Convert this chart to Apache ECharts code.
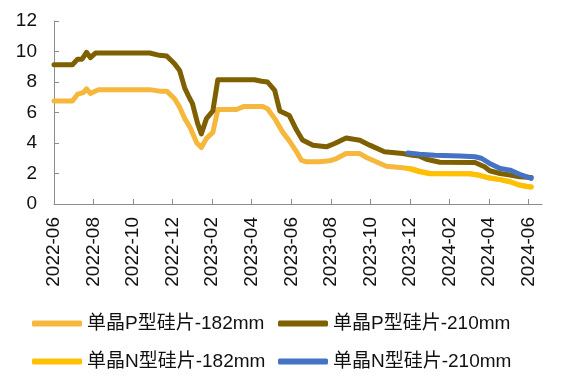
<!DOCTYPE html>
<html>
<head>
<meta charset="utf-8">
<script src="https://cdn.jsdelivr.net/npm/echarts@6/dist/echarts.min.js"></script>
<style>
  html, body { margin: 0; padding: 0; background: #fff; }
  #chart { width: 576px; height: 376px; }
</style>
</head>
<body>
<div id="chart"></div>
<script>
// Monocrystalline wafer prices (yuan/piece), weekly quotes
const seriesNames = ['单晶P型硅片-182mm', '单晶P型硅片-210mm', '单晶N型硅片-182mm', '单晶N型硅片-210mm'];

const p182Dates = ['2022-06-01','2022-06-29','2022-07-07','2022-07-16','2022-07-21','2022-07-27','2022-08-06','2022-08-10','2022-10-27','2022-11-11','2022-11-22','2022-12-04','2022-12-12','2022-12-20','2022-12-28','2023-01-08','2023-01-15','2023-01-23','2023-02-02','2023-02-09','2023-03-08','2023-03-20','2023-04-17','2023-04-25','2023-05-06','2023-05-19','2023-05-29','2023-06-09','2023-06-16','2023-06-24','2023-07-14','2023-07-30','2023-08-10','2023-08-25','2023-09-15','2023-09-25','2023-10-10','2023-10-26','2023-11-20','2023-12-05','2023-12-16','2024-01-02','2024-03-02','2024-03-17','2024-04-02','2024-04-18','2024-05-03','2024-05-18','2024-06-05'];
const p182Values = [6.75,6.75,7.2,7.3,7.55,7.25,7.45,7.5,7.5,7.4,7.4,6.9,6.35,5.6,5.05,4.0,3.7,4.3,4.7,6.2,6.2,6.4,6.4,6.25,5.6,4.68,4.14,3.42,2.88,2.77,2.77,2.83,2.98,3.31,3.31,3.05,2.77,2.48,2.37,2.3,2.15,2.0,1.98,1.88,1.7,1.6,1.46,1.24,1.12];

const p210Dates = ['2022-06-01','2022-06-29','2022-07-07','2022-07-14','2022-07-21','2022-07-27','2022-08-04','2022-10-27','2022-11-11','2022-11-22','2022-12-04','2022-12-12','2022-12-20','2022-12-28','2023-01-01','2023-01-09','2023-01-15','2023-01-23','2023-02-02','2023-02-09','2023-04-05','2023-04-16','2023-04-25','2023-05-06','2023-05-14','2023-05-29','2023-06-09','2023-06-18','2023-07-04','2023-07-25','2023-08-07','2023-08-25','2023-09-15','2023-09-30','2023-10-23','2023-11-20','2023-12-05','2023-12-16','2023-12-27','2024-01-17','2024-03-10','2024-03-25','2024-04-02','2024-04-18','2024-05-03','2024-05-18','2024-06-05'];
const p210Values = [9.13,9.13,9.5,9.5,9.95,9.6,9.9,9.9,9.75,9.7,9.2,8.75,7.6,6.9,6.6,5.3,4.6,5.6,6.1,8.15,8.15,8.05,8.0,7.45,6.1,5.8,4.85,4.2,3.85,3.75,3.97,4.33,4.18,3.86,3.42,3.31,3.2,3.14,2.93,2.74,2.72,2.44,2.18,2.0,1.9,1.78,1.74];

const n182Dates = ['2023-11-28','2023-12-16','2024-01-02','2024-03-02','2024-03-17','2024-04-02','2024-04-18','2024-05-03','2024-05-18','2024-05-28','2024-06-05'];
const n182Values = [2.33,2.11,1.98,1.98,1.88,1.7,1.6,1.46,1.24,1.15,1.12];

const n210Dates = ['2023-11-28','2023-12-16','2024-01-09','2024-02-17','2024-03-10','2024-03-20','2024-04-02','2024-04-18','2024-05-03','2024-05-18','2024-06-05'];
const n210Values = [3.35,3.27,3.2,3.14,3.1,3.0,2.66,2.33,2.22,1.95,1.68];

const xTickMonths = [0,2,4,6,8,10,12,14,16,18,20,22,24];

const seriesColors = ['#F5B83D', '#7F6000', '#FFC000', '#4472C4'];

// month offset from 2022-06-01, fractional within each month
function monthIndex(s) {
  const [y, m, d] = s.split('-').map(Number);
  const dim = new Date(y, m, 0).getDate();
  return (y - 2022) * 12 + (m - 6) + (d - 1) / dim;
}
function monthLabel(v) {
  const k = Math.round(v) + 5;
  const y = 2022 + Math.floor(k / 12);
  const m = (k % 12) + 1;
  return y + '-' + (m < 10 ? '0' + m : m);
}
function pairs(dates, vals) {
  return dates.map((d, i) => [monthIndex(d), vals[i]]);
}

const seriesData = [
  pairs(p182Dates, p182Values),
  pairs(p210Dates, p210Values),
  pairs(n182Dates, n182Values),
  pairs(n210Dates, n210Values)
];

const font = 'Liberation Sans, Arial, "Noto Sans CJK SC", sans-serif';
const axisColor = '#8c8c8c';

function legendAt(name, left, top) {
  return {
    data: [name],
    left: left,
    top: top,
    padding: 0,
    icon: 'roundRect',
    itemWidth: 50,
    itemHeight: 6,
    selectedMode: false,
    textStyle: { fontSize: 19, color: '#111', fontFamily: font }
  };
}

const chart = echarts.init(document.getElementById('chart'), null, { renderer: 'canvas' });
chart.setOption({
  animation: false,
  backgroundColor: '#fff',
  grid: { left: 54, right: 34, top: 21, bottom: 172, containLabel: false },
  legend: [
    legendAt(seriesNames[0], 32, 314),
    legendAt(seriesNames[1], 278, 314),
    legendAt(seriesNames[2], 32, 352),
    legendAt(seriesNames[3], 278, 352)
  ],
  xAxis: {
    type: 'value',
    min: 0,
    max: 24.68,
    interval: 2,
    splitLine: { show: false },
    axisLine: { lineStyle: { color: axisColor, width: 1 } },
    axisTick: { inside: true, length: 5, customValues: xTickMonths, lineStyle: { color: axisColor } },
    axisLabel: {
      customValues: xTickMonths,
      rotate: 90,
      margin: 13,
      fontSize: 19,
      color: '#111',
      fontFamily: font,
      formatter: monthLabel
    }
  },
  yAxis: {
    type: 'value',
    min: 0,
    max: 12,
    interval: 2,
    splitLine: { show: false },
    axisLine: { show: true, lineStyle: { color: axisColor, width: 1 } },
    axisTick: { show: true, inside: true, length: 5, lineStyle: { color: axisColor } },
    axisLabel: { margin: 17, fontSize: 19, color: '#111', fontFamily: font }
  },
  series: seriesData.map((d, i) => ({
    name: seriesNames[i],
    type: 'line',
    data: d,
    showSymbol: false,
    symbol: 'none',
    smooth: false,
    color: seriesColors[i],
    lineStyle: { width: 5, color: seriesColors[i], cap: 'round', join: 'round' },
    z: 2 + i
  }))
});
</script>
</body>
</html>
